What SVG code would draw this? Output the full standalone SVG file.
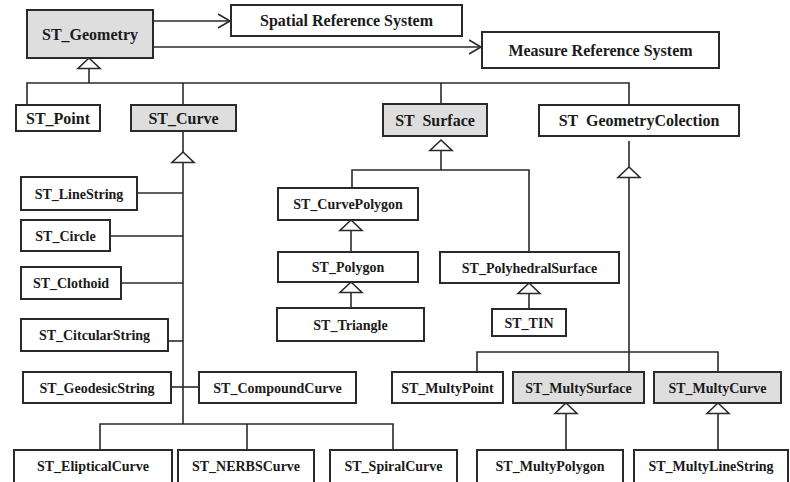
<svg xmlns="http://www.w3.org/2000/svg" xmlns:xlink="http://www.w3.org/1999/xlink" width="790" height="482" viewBox="0 0 790 482">
  <style>
    .box { fill: #ffffff; stroke: #2a2a2a; stroke-width: 2; }
    .abs { fill: #dedede; }
    .lbl { font-family: "Liberation Serif", "Times New Roman", serif; font-weight: bold; font-size: 14px; fill: #1a1a1a; text-anchor: middle; white-space: pre; }
    .big { font-size: 16px; }
    .ln { fill: none; stroke: #2a2a2a; stroke-width: 1.6; }
    .gen { fill: #ffffff; stroke: #2a2a2a; stroke-width: 1.6; }
  </style>
  <defs>
    <marker id="open" markerUnits="userSpaceOnUse" markerWidth="14" markerHeight="18" refX="12" refY="8" orient="auto">
      <path d="M0,1 L12,8 L0,15" fill="none" stroke="#2a2a2a" stroke-width="1.6"/>
    </marker>
    <!-- hollow generalization triangle, apex at origin -->
    <path id="tri" class="gen" d="M0,0 L11,10.5 L-11,10.5 Z"/>
  </defs>

  <rect width="790" height="482" fill="#ffffff"/>

  <g id="connectors">
    <!-- associations -->
    <line class="ln" x1="153" y1="21" x2="230" y2="21" marker-end="url(#open)"/>
    <line class="ln" x1="153" y1="47" x2="481" y2="47" marker-end="url(#open)"/>

    <!-- ST_Geometry hierarchy -->
    <line class="ln" x1="89" y1="68" x2="89" y2="83"/>
    <polyline class="ln" points="27,105 27,83 629,83 629,105"/>
    <line class="ln" x1="183" y1="83" x2="183" y2="105"/>
    <line class="ln" x1="441" y1="83" x2="441" y2="104"/>
    <use xlink:href="#tri" href="#tri" x="89" y="58"/>

    <!-- ST_Curve hierarchy -->
    <line class="ln" x1="183" y1="131" x2="183" y2="152"/>
    <line class="ln" x1="183" y1="162" x2="183" y2="424"/>
    <use xlink:href="#tri" href="#tri" x="183" y="152"/>
    <line class="ln" x1="137" y1="193" x2="183" y2="193"/>
    <line class="ln" x1="110" y1="236" x2="183" y2="236"/>
    <line class="ln" x1="121" y1="283" x2="183" y2="283"/>
    <line class="ln" x1="168" y1="341" x2="183" y2="341"/>
    <line class="ln" x1="171" y1="387" x2="199" y2="387"/>
    <polyline class="ln" points="100,450 100,424 393,424 393,450"/>
    <line class="ln" x1="247" y1="424" x2="247" y2="450"/>

    <!-- ST_Surface hierarchy -->
    <line class="ln" x1="441" y1="151" x2="441" y2="170"/>
    <use xlink:href="#tri" href="#tri" x="441" y="140"/>
    <polyline class="ln" points="352,188 352,170 529,170 529,252"/>
    <line class="ln" x1="351" y1="231" x2="351" y2="252"/>
    <use xlink:href="#tri" href="#tri" x="351" y="220"/>
    <line class="ln" x1="351" y1="293" x2="351" y2="308"/>
    <use xlink:href="#tri" href="#tri" x="351" y="282"/>
    <line class="ln" x1="529" y1="294" x2="529" y2="309"/>
    <use xlink:href="#tri" href="#tri" x="529" y="283"/>

    <!-- ST_GeometryColection hierarchy -->
    <line class="ln" x1="629" y1="141" x2="629" y2="167"/>
    <line class="ln" x1="629" y1="178" x2="629" y2="372"/>
    <use xlink:href="#tri" href="#tri" x="629" y="167"/>
    <polyline class="ln" points="477,372 477,352 718,352 718,372"/>
    <line class="ln" x1="566" y1="414" x2="566" y2="450"/>
    <use xlink:href="#tri" href="#tri" x="566" y="403"/>
    <line class="ln" x1="718" y1="414" x2="718" y2="450"/>
    <use xlink:href="#tri" href="#tri" x="718" y="403"/>
  </g>

  <g id="ST_Geometry"><rect class="box abs" x="27" y="10" width="126" height="48"/><text class="lbl big" x="90" y="39.5">ST_Geometry</text></g>
  <g id="SpatialReferenceSystem"><rect class="box" x="231" y="5" width="231" height="31"/><text class="lbl big" x="346.5" y="26">Spatial Reference System</text></g>
  <g id="MeasureReferenceSystem"><rect class="box" x="482" y="32" width="237" height="36"/><text class="lbl big" x="600.5" y="55.5">Measure Reference System</text></g>

  <g id="ST_Point"><rect class="box" x="16" y="105" width="84" height="26"/><text class="lbl big" x="58" y="123.5">ST_Point</text></g>
  <g id="ST_Curve"><rect class="box abs" x="131" y="105" width="105" height="26"/><text class="lbl big" x="183.5" y="123.5">ST_Curve</text></g>
  <g id="ST_Surface"><rect class="box abs" x="383" y="104" width="104" height="32"/><text class="lbl big" x="435" y="125.5">ST  Surface</text></g>
  <g id="ST_GeometryColection"><rect class="box" x="539" y="105" width="200" height="31"/><text class="lbl big" x="639" y="126">ST  GeometryColection</text></g>

  <g id="ST_LineString"><rect class="box" x="21" y="177" width="116" height="33"/><text class="lbl" x="79" y="198.5">ST_LineString</text></g>
  <g id="ST_Circle"><rect class="box" x="21" y="220" width="89" height="31"/><text class="lbl" x="65.5" y="240.5">ST_Circle</text></g>
  <g id="ST_Clothoid"><rect class="box" x="21" y="267" width="100" height="32"/><text class="lbl" x="71" y="288">ST_Clothoid</text></g>
  <g id="ST_CitcularString"><rect class="box" x="21" y="319" width="147" height="32"/><text class="lbl" x="94.5" y="340">ST_CitcularString</text></g>
  <g id="ST_GeodesicString"><rect class="box" x="23" y="372" width="148" height="31"/><text class="lbl" x="97" y="392.5">ST_GeodesicString</text></g>
  <g id="ST_CompoundCurve"><rect class="box" x="199" y="372" width="157" height="31"/><text class="lbl" x="277.5" y="392.5">ST_CompoundCurve</text></g>
  <g id="ST_ElipticalCurve"><rect class="box" x="14" y="450" width="158" height="33"/><text class="lbl" x="93" y="471">ST_ElipticalCurve</text></g>
  <g id="ST_NERBSCurve"><rect class="box" x="178" y="450" width="136" height="33"/><text class="lbl" x="246" y="471">ST_NERBSCurve</text></g>
  <g id="ST_SpiralCurve"><rect class="box" x="330" y="450" width="127" height="33"/><text class="lbl" x="393.5" y="471">ST_SpiralCurve</text></g>

  <g id="ST_CurvePolygon"><rect class="box" x="278" y="188" width="140" height="32"/><text class="lbl" x="348" y="209">ST_CurvePolygon</text></g>
  <g id="ST_Polygon"><rect class="box" x="278" y="252" width="140" height="30"/><text class="lbl" x="348" y="272">ST_Polygon</text></g>
  <g id="ST_Triangle"><rect class="box" x="277" y="308" width="147" height="33"/><text class="lbl" x="350.5" y="329.5">ST_Triangle</text></g>
  <g id="ST_PolyhedralSurface"><rect class="box" x="440" y="252" width="179" height="31"/><text class="lbl" x="529.5" y="272.5">ST_PolyhedralSurface</text></g>
  <g id="ST_TIN"><rect class="box" x="492" y="309" width="74" height="27"/><text class="lbl" x="529" y="327.5">ST_TIN</text></g>

  <g id="ST_MultyPoint"><rect class="box" x="392" y="372" width="111" height="31"/><text class="lbl" x="447.5" y="392.5">ST_MultyPoint</text></g>
  <g id="ST_MultySurface"><rect class="box abs" x="513" y="372" width="131" height="31"/><text class="lbl" x="578.5" y="392.5">ST_MultySurface</text></g>
  <g id="ST_MultyCurve"><rect class="box abs" x="654" y="372" width="127" height="31"/><text class="lbl" x="717.5" y="392.5">ST_MultyCurve</text></g>
  <g id="ST_MultyPolygon"><rect class="box" x="477" y="450" width="146" height="33"/><text class="lbl" x="550" y="471">ST_MultyPolygon</text></g>
  <g id="ST_MultyLineString"><rect class="box" x="634" y="450" width="154" height="33"/><text class="lbl" x="711" y="471">ST_MultyLineString</text></g>
</svg>
